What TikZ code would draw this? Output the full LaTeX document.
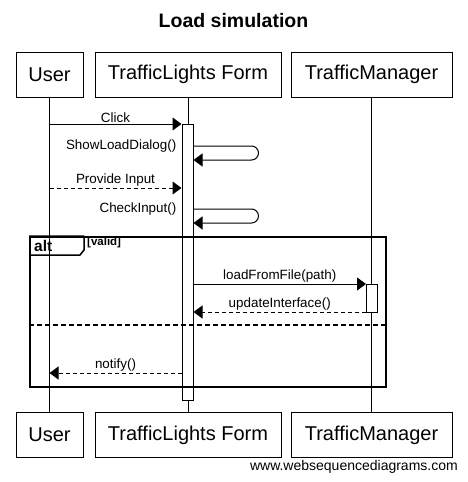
\documentclass[tikz,border=0pt]{standalone}
\usepackage{fontspec}
\setmainfont{Liberation Sans}
\usetikzlibrary{arrows.meta}
\begin{document}
\begin{tikzpicture}[x=1pt,y=-1pt,
  part/.style={draw,line width=1pt,minimum height=45pt,inner sep=0pt,font=\fontsize{20}{22}\selectfont},
  msg/.style={line width=1pt,-{Triangle[length=9pt,width=13pt]}},
  ret/.style={msg,dash pattern=on 4pt off 3pt},
  lbl/.style={font=\fontsize{13.4}{15}\selectfont,inner sep=1pt},
  act/.style={draw,fill=white,line width=1pt,inner sep=0pt},
  lifeline/.style={line width=1pt}]
\useasboundingbox (0,0) rectangle (467,482);
% title
\node (title) [font=\bfseries\fontsize{19.5}{22}\selectfont] at (233.5,21) {Load simulation};
% participants
\node (uTop) [part,minimum width=67pt] at (49.5,74.5) {User};
\node (fTop) [part,minimum width=186pt] at (188,74.5) {TrafficLights Form};
\node (mTop) [part,minimum width=161pt] at (371.5,74.5) {TrafficManager};
\node (uBot) [part,minimum width=67pt] at (49.5,435) {User};
\node (fBot) [part,minimum width=186pt] at (188,435) {TrafficLights Form};
\node (mBot) [part,minimum width=161pt] at (371.5,435) {TrafficManager};
\node (wsd) [anchor=east,font=\fontsize{14}{16}\selectfont,inner sep=0pt] at (458,467) {www.websequencediagrams.com};
% lifelines
\draw[lifeline] (uTop.south) -- (uBot.north);
\draw[lifeline] (fTop.south) -- (fBot.north);
\draw[lifeline] (mTop.south) -- (mBot.north);
% activation bars
\node (actF) [act,minimum width=11pt,minimum height=276pt] at (187.5,262) {};
\node (actM) [act,minimum width=11pt,minimum height=28pt] at (372,298) {};
% y levels
\coordinate (y1) at (0,124);
\coordinate (y2) at (0,146);
\coordinate (y2b) at (0,160);
\coordinate (y3) at (0,188);
\coordinate (y4) at (0,209);
\coordinate (y4b) at (0,223);
\coordinate (y5) at (0,284);
\coordinate (y6) at (0,312);
\coordinate (y7) at (0,325);
\coordinate (y8) at (0,373);
% messages
\draw[msg] (uTop |- y1) -- node[lbl,above] (lClick) {Click} (actF.west |- y1);
\draw[msg,rounded corners=7pt] (actF.east |- y2) -- ++(65,0) -- ++(0,14) -- (actF.east |- y2b);
\node (lShow) [lbl,anchor=east] at ([xshift=-4pt]actF.west |- y2) {ShowLoadDialog()};
\draw[ret] (uTop |- y3) -- node[lbl,above] (lProv) {Provide Input} (actF.west |- y3);
\draw[msg,rounded corners=7pt] (actF.east |- y4) -- ++(65,0) -- ++(0,14) -- (actF.east |- y4b);
\node (lCheck) [lbl,anchor=east] at ([xshift=-4pt]actF.west |- y4) {CheckInput()};
% alt frame
\node (alt) [draw,line width=2pt,minimum width=356pt,minimum height=150pt,inner sep=0pt] at (208,312) {};
\coordinate (tabA) at (alt.north west);
\draw[line width=1.5pt,line join=round] (tabA) -- ++(55,0) -- ++(0,14) -- ++(-4,5) -- ++(-51,0);
\node (altL) [font=\bfseries\fontsize{15.5}{17}\selectfont,anchor=west,inner sep=0pt] at ([xshift=5pt,yshift=-10pt]tabA) {alt};
\node (valid) [font=\bfseries\fontsize{11.5}{13}\selectfont,anchor=west,inner sep=0pt] at ([xshift=58pt,yshift=-7pt]tabA) {[valid]};
\draw[msg] (actF.east |- y5) -- node[lbl,above] (lLoad) {loadFromFile(path)} (actM.west |- y5);
\draw[ret] (actM.west |- y6) -- node[lbl,above] (lUpd) {updateInterface()} (actF.east |- y6);
\draw[line width=2pt,dash pattern=on 5pt off 3pt] (alt.west |- y7) -- (alt.east |- y7);
\draw[ret] (actF.west |- y8) -- node[lbl,above] (lNot) {notify()} (uTop |- y8);
\end{tikzpicture}
\end{document}
